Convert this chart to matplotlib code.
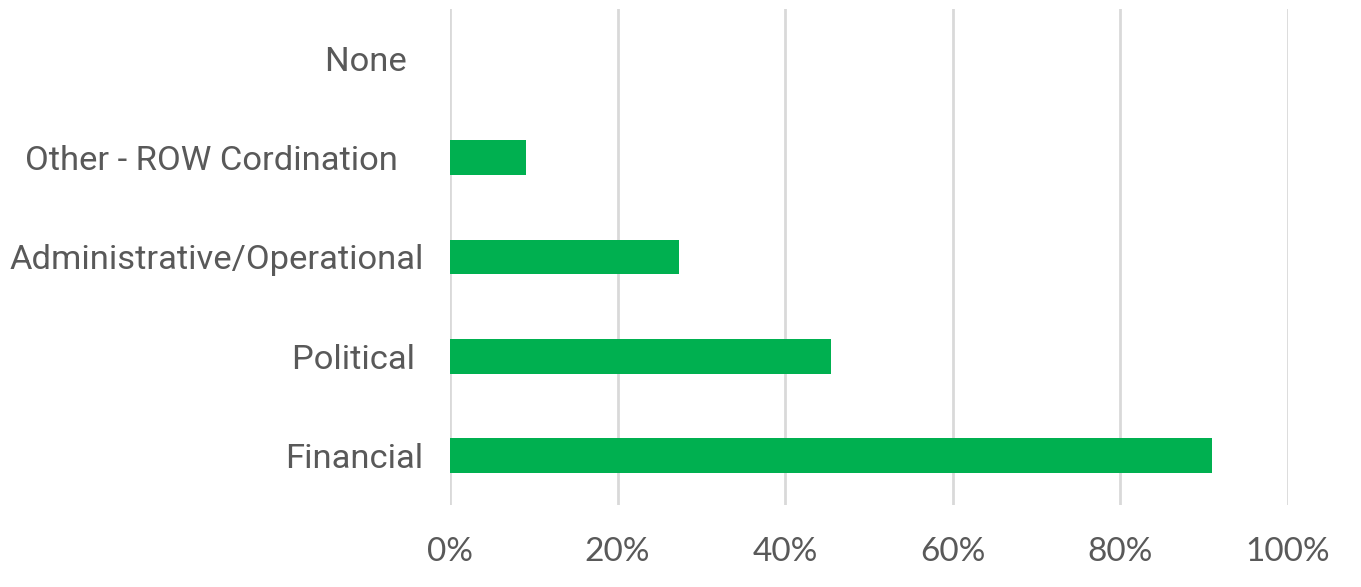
import matplotlib
matplotlib.use("Agg")
import matplotlib.pyplot as plt
import matplotlib.transforms as mtransforms
from matplotlib.ticker import FuncFormatter
from matplotlib import font_manager

categories = ["Financial", "Political ", "Administrative/Operational", "Other - ROW Cordination   ", "None  "]
values = [90.9, 45.5, 27.3, 9.1, 0.0]
xticks = [0, 20, 40, 60, 80, 100]

names = {f.name for f in font_manager.fontManager.ttflist}
cat_font = "Liberation Sans Narrow" if "Liberation Sans Narrow" in names else "Roboto"

fig = plt.figure(figsize=(13.61, 5.87), dpi=100)
ax = fig.add_axes([450/1361, 1-505/587, (1288-450)/1361, (505-9)/587])

ax.barh(range(len(categories)), values, height=0.35, color="#00B050", zorder=3)
ax.set_ylim(-0.5, len(categories)-0.5)
ax.set_xlim(0, 100)
ax.set_xticks(xticks)
ax.xaxis.set_major_formatter(FuncFormatter(lambda v, p: f"{v:.0f}%"))
ax.set_yticks(range(len(categories)))
ax.set_yticklabels(categories, fontfamily=cat_font, fontsize=24.8, color="#595959")
offset = mtransforms.ScaledTranslation(0, 3/100, fig.dpi_scale_trans)
for lab in ax.get_yticklabels():
    lab.set_transform(lab.get_transform() + offset)
for lab in ax.get_xticklabels():
    lab.set_fontfamily("Lato")
    lab.set_fontsize(24)
    lab.set_color("#595959")
ax.grid(axis="x", color="#D9D9D9", linewidth=2, zorder=0)
for s in ax.spines.values():
    s.set_visible(False)
ax.tick_params(axis="both", length=0)
ax.tick_params(axis="x", pad=23)
ax.tick_params(axis="y", pad=19)

fig.savefig("out.png", dpi=100, facecolor="white")
